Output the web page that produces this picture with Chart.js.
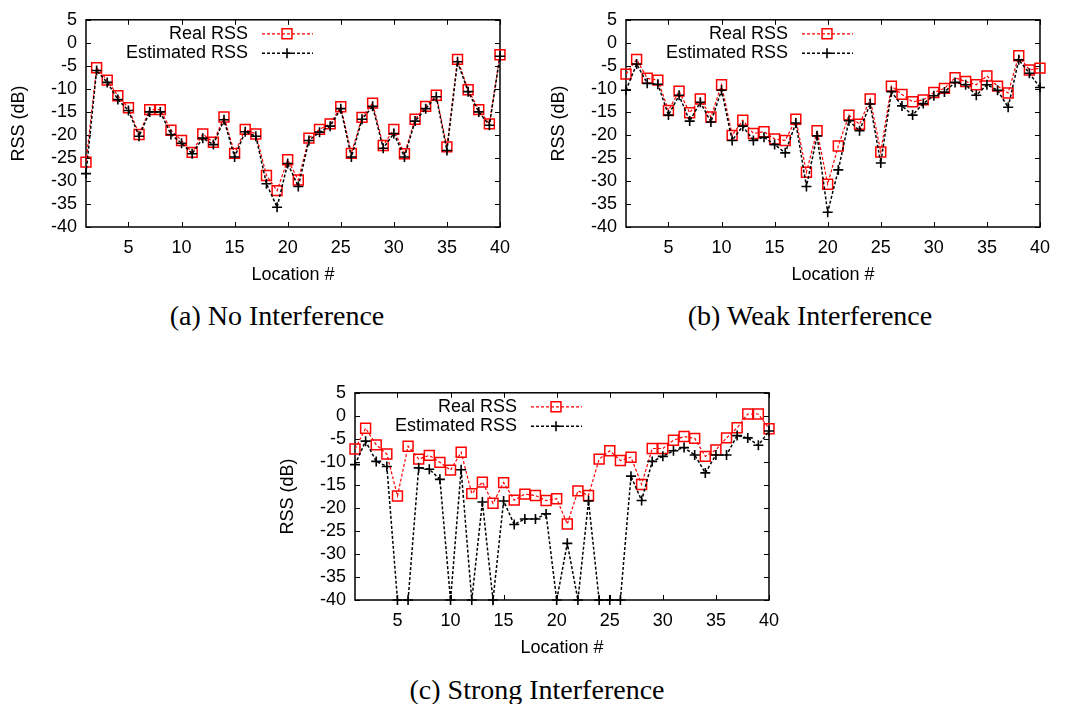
<!DOCTYPE html>
<html>
<head>
<meta charset="utf-8">
<script src="https://cdn.jsdelivr.net/npm/chart.js@4.4.1/dist/chart.umd.min.js"></script>
<style>
  body { margin: 0; background: #fff; width: 1066px; height: 704px; position: relative; overflow: hidden; }
  canvas { position: absolute; }
  .cap { position: absolute; font-family: "Liberation Serif", serif; font-size: 28px; color: #000;
         transform: translate(-50%, -50%); white-space: nowrap; }
</style>
</head>
<body>
<canvas id="chartA" width="520" height="290" style="left:0;top:0"></canvas>
<canvas id="chartB" width="520" height="290" style="left:540px;top:0"></canvas>
<canvas id="chartC" width="520" height="290" style="left:269px;top:373px"></canvas>
<div class="cap" style="left:277px;top:316px">(a) No Interference</div>
<div class="cap" style="left:810px;top:316px">(b) Weak Interference</div>
<div class="cap" style="left:537px;top:690px">(c) Strong Interference</div>

<script>
const locations = [1, 2, 3, 4, 5, 6, 7, 8, 9, 10, 11, 12, 13, 14, 15, 16, 17, 18, 19, 20,
    21, 22, 23, 24, 25, 26, 27, 28, 29, 30, 31, 32, 33, 34, 35, 36, 37, 38, 39, 40];
const xTicks = [5, 10, 15, 20, 25, 30, 35, 40];
const yTicks = [5, 0, -5, -10, -15, -20, -25, -30, -35, -40];

// (a) no interference
const noIntReal = [-25.9, -5.4, -8.1, -11.5, -14.1, -19.9, -14.5, -14.5, -19.0, -21.2,
    -23.8, -19.8, -21.6, -16.1, -24.0, -18.8, -19.8, -28.8, -32.1, -25.4,
    -29.8, -20.7, -18.8, -17.6, -13.9, -24.0, -16.2, -13.1, -22.3, -18.8,
    -24.1, -16.6, -13.8, -11.4, -22.6, -3.6, -10.2, -14.5, -17.6, -2.6];
const noIntEst = [-28.4, -6.0, -8.6, -12.3, -14.7, -20.3, -15.0, -15.0, -19.9, -21.8,
    -24.1, -20.7, -22.1, -16.7, -24.8, -19.3, -20.3, -30.6, -35.7, -26.2,
    -31.2, -21.2, -19.4, -18.1, -14.3, -24.8, -16.6, -13.8, -22.9, -19.7,
    -24.8, -17.0, -14.3, -11.7, -23.4, -4.1, -10.6, -15.0, -17.9, -2.9];

// (b) weak interference
const weakReal = [-6.8, -3.6, -7.7, -8.1, -14.7, -10.5, -15.2, -12.2, -16.1, -9.1,
    -20.1, -16.8, -19.7, -19.3, -20.9, -21.2, -16.6, -28.1, -19.1, -30.7,
    -22.4, -15.7, -17.7, -12.2, -23.7, -9.4, -11.2, -12.8, -12.4, -10.8,
    -9.9, -7.6, -8.4, -9.1, -7.2, -9.4, -10.9, -2.8, -5.9, -5.5];
const weakEst = [-10.3, -4.6, -8.8, -9.0, -15.7, -11.4, -17.0, -12.9, -17.2, -10.3,
    -21.2, -18.1, -21.2, -20.5, -22.1, -23.9, -17.4, -31.2, -20.2, -36.8,
    -27.6, -16.9, -19.1, -13.3, -26.1, -10.6, -13.7, -15.7, -13.2, -11.5,
    -10.7, -8.6, -9.1, -11.4, -9.1, -10.3, -14.0, -3.7, -6.6, -9.7];

// (c) strong interference
const strongReal = [-7.2, -2.7, -6.3, -8.3, -17.4, -6.6, -9.4, -8.6, -10.1, -11.8,
    -7.9, -16.9, -14.4, -19.0, -14.5, -18.3, -17.0, -17.3, -18.4, -18.0,
    -23.5, -16.3, -17.3, -9.4, -7.6, -9.7, -9.0, -14.9, -7.1, -7.1,
    -5.3, -4.5, -4.9, -8.8, -7.4, -4.8, -2.6, 0.4, 0.4, -2.8];
const strongEst = [-10.6, -5.5, -9.9, -11.0, -40, -40, -11.3, -11.6, -13.8, -40,
    -11.7, -40, -18.7, -40, -18.5, -23.6, -22.4, -22.4, -21.3, -40,
    -27.7, -40, -18.5, -40, -40, -40, -13.1, -18.4, -9.9, -8.8,
    -7.6, -6.9, -8.5, -12.4, -8.5, -8.5, -4.3, -4.8, -6.4, -3.3];

Chart.defaults.font.family = '"Liberation Sans", Arial, sans-serif';
Chart.defaults.font.size = 18;
Chart.defaults.color = '#000';

function drawMarker(ctx, style, r, x, y) {
    ctx.beginPath();
    if (style === 'rect') {
        const s = r * Math.SQRT1_2;
        ctx.rect(x - s, y - s, 2 * s, 2 * s);
    } else {
        ctx.moveTo(x - r, y); ctx.lineTo(x + r, y);
        ctx.moveTo(x, y - r); ctx.lineTo(x, y + r);
    }
    ctx.stroke();
}

// gnuplot-like box with inward ticks on all four sides
const framePlugin = {
    id: 'frame',
    beforeDatasetsDraw(chart) {
        const {ctx, chartArea: a, scales: {x, y}} = chart;
        ctx.save();
        ctx.strokeStyle = '#000';
        ctx.lineWidth = 1;
        ctx.beginPath();
        xTicks.forEach(v => {
            const px = Math.round(x.getPixelForValue(v)) + 0.5;
            ctx.moveTo(px, a.bottom); ctx.lineTo(px, a.bottom - 5);
            ctx.moveTo(px, a.top); ctx.lineTo(px, a.top + 5);
        });
        yTicks.forEach(v => {
            const py = Math.round(y.getPixelForValue(v)) + 0.5;
            ctx.moveTo(a.left, py); ctx.lineTo(a.left + 5, py);
            ctx.moveTo(a.right, py); ctx.lineTo(a.right - 5, py);
        });
        ctx.stroke();
        ctx.lineWidth = 1.5;
        ctx.strokeRect(a.left, a.top, a.width, a.height);
        ctx.restore();
    }
};

// key in the top-left corner: label, then line sample with marker
const keyPlugin = {
    id: 'key',
    afterDatasetsDraw(chart) {
        const {ctx, chartArea: a} = chart;
        ctx.save();
        ctx.font = '18px "Liberation Sans", Arial, sans-serif';
        ctx.textAlign = 'right';
        ctx.textBaseline = 'middle';
        chart.data.datasets.forEach((ds, i) => {
            const yy = a.top + 14 + i * 19.5;
            ctx.fillStyle = '#000';
            ctx.fillText(ds.label, a.left + 162, yy);
            ctx.strokeStyle = ds.borderColor;
            ctx.lineWidth = ds.borderWidth;
            ctx.setLineDash(ds.borderDash);
            ctx.beginPath();
            ctx.moveTo(a.left + 176, yy);
            ctx.lineTo(a.left + 227, yy);
            ctx.stroke();
            ctx.setLineDash([]);
            ctx.lineWidth = ds.pointBorderWidth;
            drawMarker(ctx, ds.pointStyle, ds.pointRadius, a.left + 201, yy);
        });
        ctx.restore();
    }
};

function makeChart(id, real, est) {
    const toPoints = vals => locations.map((loc, i) => ({x: loc, y: vals[i]}));
    return new Chart(document.getElementById(id), {
        type: 'line',
        data: {
            datasets: [
                {
                    label: 'Real RSS',
                    data: toPoints(real),
                    borderColor: '#ff0000',
                    borderWidth: 1.2,
                    borderDash: [3, 2],
                    pointStyle: 'rect',
                    pointRadius: 7,
                    pointBorderWidth: 1.5,
                    pointBorderColor: '#ff0000',
                    pointBackgroundColor: 'rgba(0,0,0,0)',
                    clip: false,
                    order: 1,
                },
                {
                    label: 'Estimated RSS',
                    data: toPoints(est),
                    borderColor: '#000000',
                    borderWidth: 1.5,
                    borderDash: [3, 2],
                    pointStyle: 'cross',
                    pointRadius: 5,
                    pointBorderWidth: 1.6,
                    pointBorderColor: '#000000',
                    clip: false,
                    order: 0,
                },
            ],
        },
        options: {
            responsive: false,
            animation: false,
            devicePixelRatio: 1,
            layout: { padding: { top: 11, right: 13, left: 0, bottom: 0 } },
            plugins: { legend: { display: false }, tooltip: { enabled: false } },
            scales: {
                x: {
                    type: 'linear',
                    min: 1,
                    max: 40,
                    grid: { display: false, drawTicks: false },
                    border: { display: false },
                    ticks: { padding: 10, maxRotation: 0, autoSkip: false },
                    afterBuildTicks: s => { s.ticks = xTicks.map(v => ({value: v})); },
                    afterFit: s => { s.height = 63; },
                    title: { display: true, text: 'Location #', padding: { top: 0, bottom: 4 } },
                },
                y: {
                    min: -40,
                    max: 5,
                    grid: { display: false, drawTicks: false },
                    border: { display: false },
                    ticks: { padding: 9, autoSkip: false },
                    afterBuildTicks: s => { s.ticks = yTicks.slice().reverse().map(v => ({value: v})); },
                    afterFit: s => { s.width = 86; },
                    title: { display: true, text: 'RSS (dB)', padding: { top: 8, bottom: 0 } },
                },
            },
        },
        plugins: [framePlugin, keyPlugin],
    });
}

makeChart('chartA', noIntReal, noIntEst);
makeChart('chartB', weakReal, weakEst);
makeChart('chartC', strongReal, strongEst);
</script>
</body>
</html>
